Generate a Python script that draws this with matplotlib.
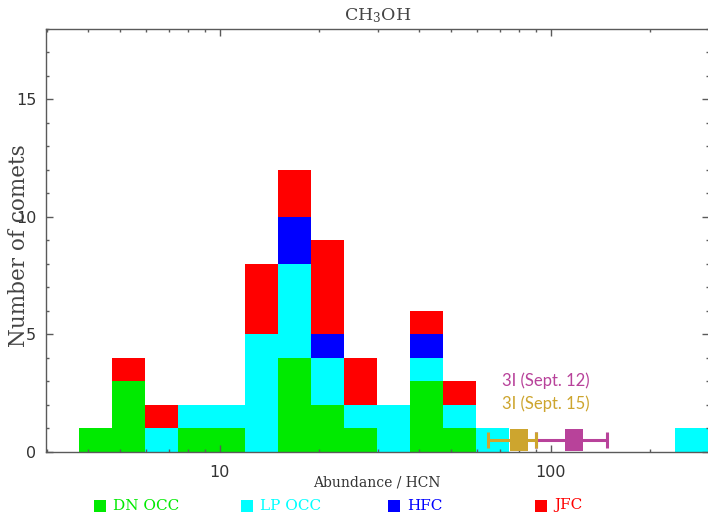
import numpy as np
import matplotlib
matplotlib.use("Agg")
import matplotlib.pyplot as plt
from matplotlib.lines import Line2D
from matplotlib.ticker import MultipleLocator, NullFormatter

plt.rcParams["mathtext.fontset"] = "dejavuserif"

# Histogram of CH3OH/HCN abundance ratios, 0.1 dex bins starting at log10 = 0.575
bin_log_start = 0.575
bin_log_width = 0.1
n_bins = 19

dn_occ = [1, 3, 0, 1, 1, 0, 4, 2, 1, 0, 3, 1, 0, 0, 0, 0, 0, 0, 0]
lp_occ = [0, 0, 1, 1, 1, 5, 4, 2, 1, 2, 1, 1, 1, 0, 0, 0, 0, 0, 1]
hfc = [0, 0, 0, 0, 0, 0, 2, 1, 0, 0, 1, 0, 0, 0, 0, 0, 0, 0, 0]
jfc = [0, 1, 1, 0, 0, 3, 2, 4, 2, 0, 1, 1, 0, 0, 0, 0, 0, 0, 0]

series_names = ["DN OCC", "LP OCC", "HFC", "JFC"]
series_colors = ["#00ea00", "#00ffff", "#0000ff", "#ff0000"]

# 3I/ATLAS measurements: value, lower bound, upper bound
atlas_labels = ["3I (Sept. 12)", "3I (Sept. 15)"]
atlas_values = [117.5, 80.0]
atlas_low = [90.3, 64.5]
atlas_high = [148.0, 90.3]
atlas_colors = ["#b8429a", "#cda52e"]

x_ticks = [10, 100]
x_tick_labels = ["10", "100"]

fig = plt.figure(figsize=(7.08, 5.13), dpi=100)
ax = fig.add_axes([46 / 708, 61.5 / 513, 663 / 708, 422.5 / 513])

edges = 10 ** (bin_log_start + bin_log_width * np.arange(n_bins + 1))
lefts = edges[:-1]
widths = np.diff(edges)

bottom = np.zeros(n_bins)
for counts, color in zip([dn_occ, lp_occ, hfc, jfc], series_colors):
    counts = np.asarray(counts, dtype=float)
    ax.bar(lefts, counts, width=widths, bottom=bottom, align="edge",
           color=color, linewidth=0, zorder=1)
    bottom += counts

# Error-bar points drawn as upright boxes
box = [(-0.4, -0.5), (0.4, -0.5), (0.4, 0.5), (-0.4, 0.5), (-0.4, -0.5)]
for val, lo, hi, col in zip(atlas_values, atlas_low, atlas_high, atlas_colors):
    ax.errorbar([val], [0.47], xerr=[[val - lo], [hi - val]], fmt="none",
                ecolor=col, elinewidth=2.2, capsize=6, capthick=2.2, zorder=4)
    ax.plot([val], [0.5], marker=box, markersize=16.5, color=col,
            markeredgewidth=0, linestyle="none", zorder=5)

ax.text(71.0, 2.78, atlas_labels[0], family="Lato", fontsize=12,
        color=atlas_colors[0], va="baseline", ha="left")
ax.text(71.0, 1.80, atlas_labels[1], family="Lato", fontsize=12,
        color=atlas_colors[1], va="baseline", ha="left")

ax.set_xscale("log")
ax.set_xlim(10 ** 0.475, 10 ** 2.478)
ax.set_ylim(0, 18)
ax.set_xticks(x_ticks, x_tick_labels)
ax.xaxis.set_minor_formatter(NullFormatter())
ax.yaxis.set_major_locator(MultipleLocator(5))
ax.yaxis.set_minor_locator(MultipleLocator(1))

spine_color = "#5a5a5a"
for s in ax.spines.values():
    s.set_color(spine_color)
    s.set_linewidth(1.0)

ax.tick_params(which="both", direction="in", top=True, right=True,
               color=spine_color, width=1.0)
ax.tick_params(which="major", length=5)
ax.tick_params(which="minor", length=2.5)
ax.tick_params(axis="x", which="major", pad=9.5, labelsize=11.5, labelcolor="#333333")
ax.tick_params(axis="y", which="major", pad=7, labelsize=11.5, labelcolor="#333333")

ax.set_title("CH$_3$OH", fontfamily="DejaVu Serif", fontsize=12.5,
             color="#444444", pad=6)

ax.set_ylabel("Number of comets", fontfamily="DejaVu Serif", fontsize=15.5,
              color="#444444")
ax.yaxis.set_label_coords(-0.024, 0.488)

fig.text(377 / 708, 26 / 513, "Abundance / HCN", fontfamily="DejaVu Serif",
         fontsize=10, color="#333333", ha="center", va="baseline")

# Legend row along the bottom edge
legend_x = [99.7, 247.0, 394.0, 540.7]
legend_y = 1 - 505.5 / 513
for name, color, xc in zip(series_names, series_colors, legend_x):
    fig.add_artist(Line2D([xc / 708], [legend_y], transform=fig.transFigure,
                          marker="s", markersize=9.2, color=color,
                          markeredgewidth=0, linestyle="none"))
    fig.text((xc + 13.5) / 708, legend_y, name, fontfamily="DejaVu Serif",
             fontsize=11, color=color, ha="left", va="center")

fig.savefig("out.png", dpi=100)
